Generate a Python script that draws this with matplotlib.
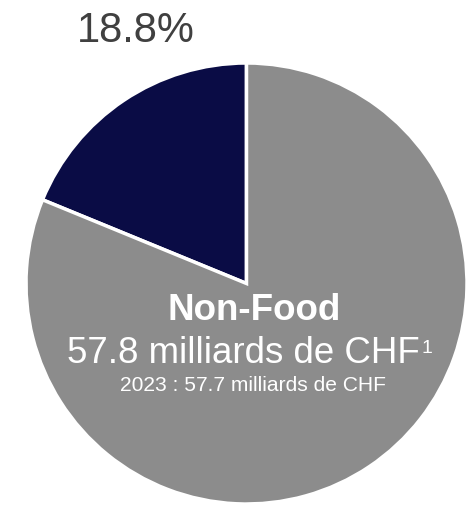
import matplotlib.pyplot as plt

# slice shares (%), drawn counter-clockwise from the top
labels = ["Food", "Non-Food"]
shares = [18.8, 81.2]
colors = ["#0a0c45", "#8c8c8c"]

pct_label = "18.8%"
title = "Non-Food"
value_line = "57.8 milliards de CHF"
footnote = "1"
prev_line = "2023 : 57.7 milliards de CHF"

plt.rcParams['font.family'] = ['Liberation Sans', 'DejaVu Sans']

W, H = 469, 505
fig = plt.figure(figsize=(W / 100, H / 100), dpi=100)
ax = fig.add_axes([26 / W, 1 / H, 441 / W, 441 / H])
ax.pie(shares, colors=colors, startangle=90, counterclock=True,
       radius=1, wedgeprops=dict(edgecolor="white", linewidth=2.5))
ax.set_xlim(-1, 1)
ax.set_ylim(-1, 1)
ax.set_aspect("equal")
ax.axis("off")

fig.text(135.5 / W, 1 - 42 / H, pct_label, fontsize=30, color="#404040",
         ha="center", va="baseline")
fig.text(254 / W, 1 - 320 / H, title, fontsize=26.5, fontweight="bold",
         color="white", ha="center", va="baseline")
fig.text(243 / W, 1 - 363 / H, value_line, fontsize=26.4,
         color="white", ha="center", va="baseline")
fig.text(421 / W, 1 - 353 / H, footnote, fontsize=14,
         color="white", ha="left", va="baseline")
fig.text(252.5 / W, 1 - 391 / H, prev_line, fontsize=15.1,
         color="white", ha="center", va="baseline")

fig.savefig("out.png", dpi=100)
